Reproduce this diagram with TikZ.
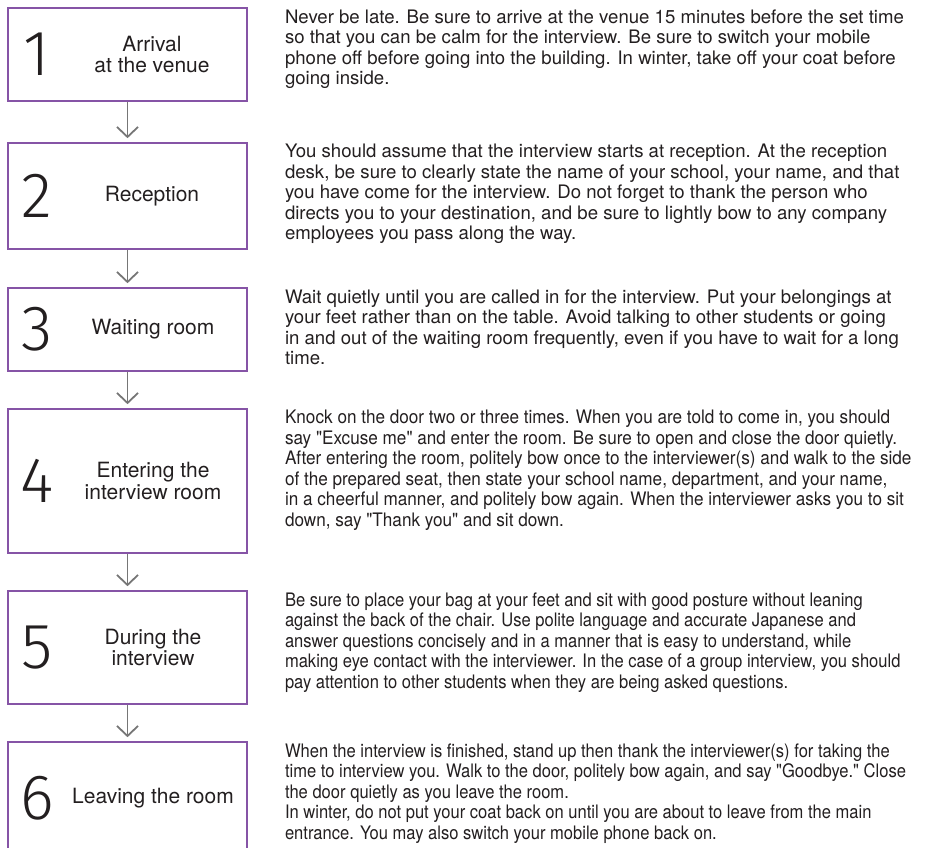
\documentclass[tikz,border=0pt]{standalone}
\usepackage{fontspec}
\setmainfont{TeX Gyre Heros}
\newfontfamily\digitfont{Fira Sans Light}
\newfontfamily\narrowfont[FakeStretch=0.922]{TeX Gyre Heros}
\newfontfamily\narrowerfont[FakeStretch=0.89]{TeX Gyre Heros}
\usepackage{xcolor}
\definecolor{colorFrame}{RGB}{134,84,166}
\definecolor{colorArrow}{RGB}{118,118,118}
\definecolor{colorText}{RGB}{35,31,32}
\usetikzlibrary{arrows.meta, positioning}
\tikzset{
  stepbox/.style={draw=colorFrame, line width=1.6pt, minimum width=239pt, inner sep=0pt},
  stepnum/.style={font=\digitfont\fontsize{64}{64}\selectfont, text=colorText, inner sep=0pt},
  steplabel/.style={font=\fontsize{21}{21}\selectfont, align=center, text=colorText, inner sep=0pt},
  stepdesc/.style={font=\fontsize{18.6}{20.5}\selectfont, align=left, text=colorText, anchor=north west, inner sep=0pt},
  narrow/.style={font=\narrowfont\fontsize{18.6}{20.5}\selectfont},
  narrower/.style={font=\narrowerfont\fontsize{18.6}{20.5}\selectfont},
  flow/.style={-{Straight Barb[length=10pt,width=21pt]}, colorArrow, line width=1.8pt, shorten >=4pt}
}
\begin{document}
\begin{tikzpicture}[x=1pt, y=-1pt]
\clip (0,0) rectangle (932,848);
\node[stepbox, minimum height=93pt] (b1) at (127.5,54.5) {};
\node[stepbox, minimum height=106pt] (b2) at (127.5,196) {};
\node[stepbox, minimum height=83pt] (b3) at (127.5,329.5) {};
\node[stepbox, minimum height=144pt] (b4) at (127.5,481) {};
\node[stepbox, minimum height=113pt] (b5) at (127.5,647.5) {};
\node[stepbox, minimum height=112pt] (b6) at (127.5,798) {};
\foreach \i in {1,...,6}
  \node[stepnum] (n\i) at ([xshift=30pt]b\i.west) {\i};
\node[steplabel] (l1) at ([xshift=24.5pt]b1.center) {Arrival\\at the venue};
\node[steplabel] (l2) at ([xshift=24.5pt]b2.center) {Reception};
\node[steplabel] (l3) at ([xshift=25.5pt]b3.center) {Waiting room};
\node[steplabel] (l4) at ([xshift=25.5pt]b4.center) {Entering the\\interview room};
\node[steplabel] (l5) at ([xshift=25.5pt]b5.center) {During the\\interview};
\node[steplabel] (l6) at ([xshift=25.5pt]b6.center) {Leaving the room};
\node[stepdesc] (t1) at ([xshift=37pt,yshift=-2pt]b1.north east) {Never be late. Be sure to arrive at the venue 15 minutes before the set time\\so that you can be calm for the interview. Be sure to switch your mobile\\phone off before going into the building. In winter, take off your coat before\\going inside.};
\node[stepdesc] (t2) at ([xshift=37pt,yshift=-2pt]b2.north east) {You should assume that the interview starts at reception. At the reception\\desk, be sure to clearly state the name of your school, your name, and that\\you have come for the interview. Do not forget to thank the person who\\directs you to your destination, and be sure to lightly bow to any company\\employees you pass along the way.};
\node[stepdesc] (t3) at ([xshift=37pt,yshift=-2pt]b3.north east) {Wait quietly until you are called in for the interview. Put your belongings at\\your feet rather than on the table. Avoid talking to other students or going\\in and out of the waiting room frequently, even if you have to wait for a long\\time.};
\node[stepdesc, narrow] (t4) at ([xshift=37pt,yshift=-2pt]b4.north east) {Knock on the door two or three times. When you are told to come in, you should\\say "Excuse me" and enter the room. Be sure to open and close the door quietly.\\After entering the room, politely bow once to the interviewer(s) and walk to the side\\of the prepared seat, then state your school name, department, and your name,\\in a cheerful manner, and politely bow again. When the interviewer asks you to sit\\down, say "Thank you" and sit down.};
\node[stepdesc, narrower] (t5) at ([xshift=37pt,yshift=-2pt]b5.north east) {Be sure to place your bag at your feet and sit with good posture without leaning\\against the back of the chair. Use polite language and accurate Japanese and\\answer questions concisely and in a manner that is easy to understand, while\\making eye contact with the interviewer. In the case of a group interview, you should\\pay attention to other students when they are being asked questions.};
\node[stepdesc, narrower] (t6) at ([xshift=37pt,yshift=-2pt]b6.north east) {When the interview is finished, stand up then thank the interviewer(s) for taking the\\time to interview you. Walk to the door, politely bow again, and say "Goodbye." Close\\the door quietly as you leave the room.\\In winter, do not put your coat back on until you are about to leave from the main\\entrance. You may also switch your mobile phone back on.};
\foreach \a/\b in {b1/b2, b2/b3, b3/b4, b4/b5, b5/b6}
  \draw[flow] (\a) -- (\b);
\end{tikzpicture}
\end{document}
